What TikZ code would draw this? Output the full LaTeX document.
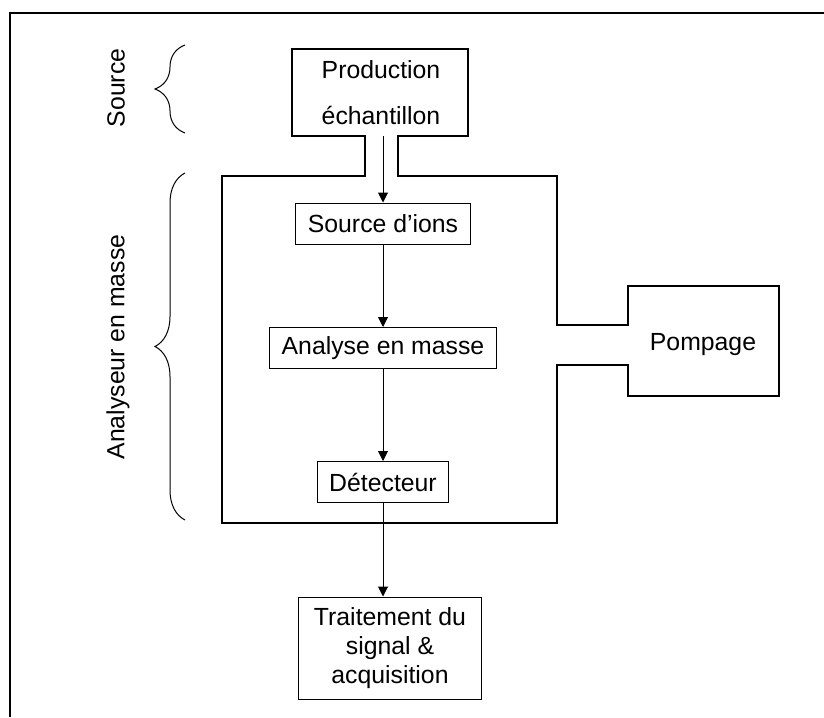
\documentclass[tikz,border=0pt]{standalone}
\usepackage{fontspec}
\setmainfont{Liberation Sans}
\usetikzlibrary{positioning, arrows.meta, decorations.pathreplacing}

\begin{document}
\begin{tikzpicture}[
    x=0.5pt, y=-0.5pt,
    font=\fontsize{12.4}{14.5}\selectfont,
    etape/.style={draw, line width=0.5pt, inner xsep=6pt, minimum height=20.5pt},
    fleche/.style={line width=0.5pt, -{Triangle[length=5pt, width=5pt]}},
    accolade/.style={decorate, decoration={brace, amplitude=15pt}, line width=0.5pt},
    enceinte/.style={line width=1.1pt, line join=miter}
]
\useasboundingbox (0,0) rectangle (824,717);

% cadre
\draw[line width=0.7pt] (824,13) -- (10,13) -- (10,717);

% enceinte : production, analyseur et pompage
\draw[enceinte] (292,49) -- (468,49) -- (468,136) -- (398,136) -- (398,176)
    -- (557,176) -- (557,325) -- (628,325) -- (628,286) -- (779,286)
    -- (779,396) -- (628,396) -- (628,365) -- (557,365) -- (557,523)
    -- (222,523) -- (222,176) -- (365,176) -- (365,136) -- (292,136) -- cycle;

\node[minimum width=88pt, minimum height=43.5pt, align=center] (prod) at (381,92.5) {Production\\[8.5pt]échantillon};
    \node (pomp) at (703,345) {Pompage};

\node[etape] (src) at (383,223.5) {Source d’ions};
    \node[etape] (ana) at (383,348) {Analyse en masse};
    \node[etape] (det) at (383,482) {Détecteur};
    \node[etape, minimum width=91.5pt, minimum height=51pt, align=center] (trt) at (390,648) {Traitement du\\signal \&\\acquisition};

\draw[fleche] (prod.south -| src.north) -- (src.north);
    \draw[fleche] (src) -- (ana);
    \draw[fleche] (ana) -- (det);
    \draw[fleche] (det) -- (det |- trt.north);

% accolades
\draw[accolade] (185,133) -- (185,45);
    \draw[accolade] (185,520) -- (185,173);
    \node[rotate=90] (lsrc) at (116,88) {Source};
    \node[rotate=90] (lana) at (118,347) {Analyseur en masse};
\end{tikzpicture}
\end{document}
